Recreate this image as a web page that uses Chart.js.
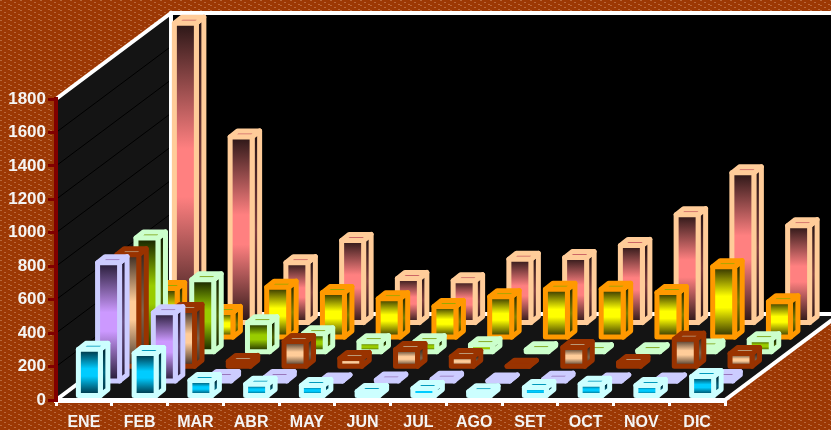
<!DOCTYPE html>
<html>
<head>
<meta charset="utf-8">
<script src="https://cdn.jsdelivr.net/npm/chart.js@4"></script>
<style>
  html, body { margin: 0; padding: 0; background: #9c3804; }
  canvas { display: block; }
</style>
</head>
<body>
<canvas id="chart" width="831" height="430"></canvas>
<script>
const months = ["ENE","FEB","MAR","ABR","MAY","JUN","JUL","AGO","SET","OCT","NOV","DIC"];
const yTicks = [0,200,400,600,800,1000,1200,1400,1600,1800];

// front row to back row
const cyanValues = [276,251,90,67,60,24,42,22,48,67,60,113];
const lavenderValues = [707,408,20,20,0,5,10,0,10,0,0,20];
const rustValues = [667,334,29,148,47,100,58,0,112,22,162,76];
const greenValues = [680,430,173,107,60,60,42,12,6,6,28,72];
const yellowValues = [290,147,298,266,230,183,242,286,286,266,421,212];
const peachValues = [1790,1110,358,491,263,250,378,388,461,645,895,579];

const seriesNames = ["S1","S2","S3","S4","S5","S6"];
const seriesValues = [cyanValues, lavenderValues, rustValues, greenValues, yellowValues, peachValues];
const outlineColors = ["#ccffff","#ccccff","#993300","#ccffcc","#ff9900","#ffcc99"];
const faceColors = ["#00ccff","#cc99ff","#ffcc99","#99cc00","#ffff00","#ff8080"];
const topColors = ["#0099bb","#9977bb","#bb9977","#779900","#99aa00","#cc6666"];
const sideColors = ["#006680","#664d80","#80664d","#4d6600","#808000","#804040"];
const darkColors = ["#002a38","#241a34","#3a2a20","#142000","#2c2c00","#2a1616"];

// 3d layout
const ROW_DX = 19.2, ROW_DY = 14.6;
const BOX_DX = 7.5, BOX_DY = 6, BOX_W = 22, BOX_LEFT = -5.5, BOX_LINE = 5;
const FLOOR_DX = 115, FLOOR_DY = 86;
const FLOOR_GREY = "#141414";

function hatchPattern(ctx) {
  const tile = document.createElement("canvas");
  tile.width = 10;
  tile.height = 5;
  const t = tile.getContext("2d");
  t.fillStyle = "#9c3804";
  t.fillRect(0, 0, 10, 5);
  t.fillStyle = "#b8683c";
  [[0,0],[1,0],[4,2],[5,2],[8,4],[9,4]].forEach(p => t.fillRect(p[0], p[1], 1, 1));
  return ctx.createPattern(tile, "repeat");
}

function poly(ctx, pts) {
  ctx.beginPath();
  ctx.moveTo(pts[0][0], pts[0][1]);
  for (let i = 1; i < pts.length; i++) ctx.lineTo(pts[i][0], pts[i][1]);
  ctx.closePath();
}

function line(ctx, x1, y1, x2, y2, color, width) {
  ctx.strokeStyle = color;
  ctx.lineWidth = width;
  ctx.beginPath();
  ctx.moveTo(x1, y1);
  ctx.lineTo(x2, y2);
  ctx.stroke();
}

const room = {
  id: "room",
  beforeDraw(chart) {
    const ctx = chart.ctx, a = chart.chartArea;
    const L = a.left, R = a.right, T = a.top, B = a.bottom;
    ctx.save();
    ctx.fillStyle = hatchPattern(ctx);
    ctx.fillRect(0, 0, chart.width, chart.height);

    // back wall
    ctx.fillStyle = "#000";
    ctx.fillRect(L + FLOOR_DX, T - FLOOR_DY, chart.width, B - T);
    // side wall
    ctx.fillStyle = FLOOR_GREY;
    poly(ctx, [[L,B],[L,T],[L+FLOOR_DX,T-FLOOR_DY],[L+FLOOR_DX,B-FLOOR_DY]]);
    ctx.fill();
    // floor
    poly(ctx, [[L,B],[R,B],[R+FLOOR_DX,B-FLOOR_DY],[L+FLOOR_DX,B-FLOOR_DY]]);
    ctx.fill();

    // grid lines run over the side wall
    const y = chart.scales.y;
    yTicks.forEach(v => {
      if (v === 0 || v === 1800) return;
      const p = y.getPixelForValue(v);
      line(ctx, L, p, L + FLOOR_DX, p - FLOOR_DY, "#000", 1);
    });

    // white frame
    ctx.lineCap = "round";
    line(ctx, L, T, L + FLOOR_DX, T - FLOOR_DY, "#fff", 4);
    line(ctx, L + FLOOR_DX, T - FLOOR_DY, chart.width, T - FLOOR_DY, "#fff", 4);
    line(ctx, L + FLOOR_DX, T - FLOOR_DY, L + FLOOR_DX, B - FLOOR_DY, "#fff", 4);
    line(ctx, L, B, L + FLOOR_DX, B - FLOOR_DY, "#fff", 4);
    line(ctx, L + FLOOR_DX, B - FLOOR_DY, chart.width, B - FLOOR_DY, "#fff", 4);
    line(ctx, R, B, R + FLOOR_DX, B - FLOOR_DY, "#fff", 4);
    ctx.restore();
  }
};

function drawBox(ctx, x, w, top, base, row, empty) {
  const outline = outlineColors[row], dark = darkColors[row];
  const grad = ctx.createLinearGradient(0, top, 0, base);
  grad.addColorStop(0, dark);
  grad.addColorStop(0.42, faceColors[row]);
  grad.addColorStop(0.58, faceColors[row]);
  grad.addColorStop(1, dark);

  ctx.lineWidth = BOX_LINE;
  ctx.lineJoin = "round";
  ctx.strokeStyle = outline;

  // side
  const side = ctx.createLinearGradient(0, top, 0, base);
  side.addColorStop(0, dark);
  side.addColorStop(0.5, sideColors[row]);
  side.addColorStop(1, dark);
  ctx.fillStyle = side;
  poly(ctx, [[x+w,base],[x+w,top],[x+w+BOX_DX,top-BOX_DY],[x+w+BOX_DX,base-BOX_DY]]);
  ctx.fill();
  ctx.stroke();

  // top, a zero value has no visible strip
  ctx.fillStyle = empty ? outline : topColors[row];
  poly(ctx, [[x,top],[x+w,top],[x+w+BOX_DX,top-BOX_DY],[x+BOX_DX,top-BOX_DY]]);
  ctx.fill();
  ctx.stroke();

  // front
  ctx.fillStyle = grad;
  poly(ctx, [[x,base],[x,top],[x+w,top],[x+w,base]]);
  ctx.fill();
  ctx.stroke();
}

const boxes = {
  id: "boxes",
  beforeDatasetsDraw(chart) {
    const ctx = chart.ctx, xs = chart.scales.x, ys = chart.scales.y;
    const zero = ys.getPixelForValue(0);
    ctx.save();
    for (let row = seriesValues.length - 1; row >= 0; row--) {
      seriesValues[row].forEach((v, i) => {
        const x = xs.getPixelForValue(i) + BOX_LEFT + row * ROW_DX;
        const base = zero - 4.5 - row * ROW_DY;
        const top = base - (zero - ys.getPixelForValue(v));
        drawBox(ctx, x, BOX_W, top, base, row, v === 0);
      });
    }
    ctx.restore();
    return false; // boxes replace the flat bars
  }
};

new Chart(document.getElementById("chart"), {
  type: "bar",
  data: {
    labels: months,
    datasets: seriesValues.map((vals, i) => ({ label: seriesNames[i], data: vals }))
  },
  plugins: [room, boxes],
  options: {
    responsive: false,
    animation: false,
    devicePixelRatio: 1,
    layout: { padding: { top: 99, right: 106, left: 0, bottom: 0 } },
    plugins: { legend: { display: false }, tooltip: { enabled: false } },
    scales: {
      x: {
        afterFit(s) { s.height = 30; },
        grid: { drawOnChartArea: false, color: "#fff", lineWidth: 3, tickLength: 6 },
        border: { color: "#fff", width: 5 },
        ticks: { color: "#f4f4f4", font: { family: "Liberation Sans", size: 16, weight: "bold" }, padding: 7, maxRotation: 0, autoSkip: false }
      },
      y: {
        min: 0,
        max: 1800,
        afterFit(s) { s.width = 56; },
        afterBuildTicks(s) { s.ticks = yTicks.map(v => ({ value: v })); },
        grid: { drawOnChartArea: false, color: "#800000", lineWidth: 3, tickLength: 8 },
        border: { color: "#800000", width: 4 },
        ticks: { color: "#f4f4f4", font: { family: "Liberation Sans", size: 17, weight: "bold" }, padding: 2, callback: v => String(v) }
      }
    }
  }
});
</script>
</body>
</html>
